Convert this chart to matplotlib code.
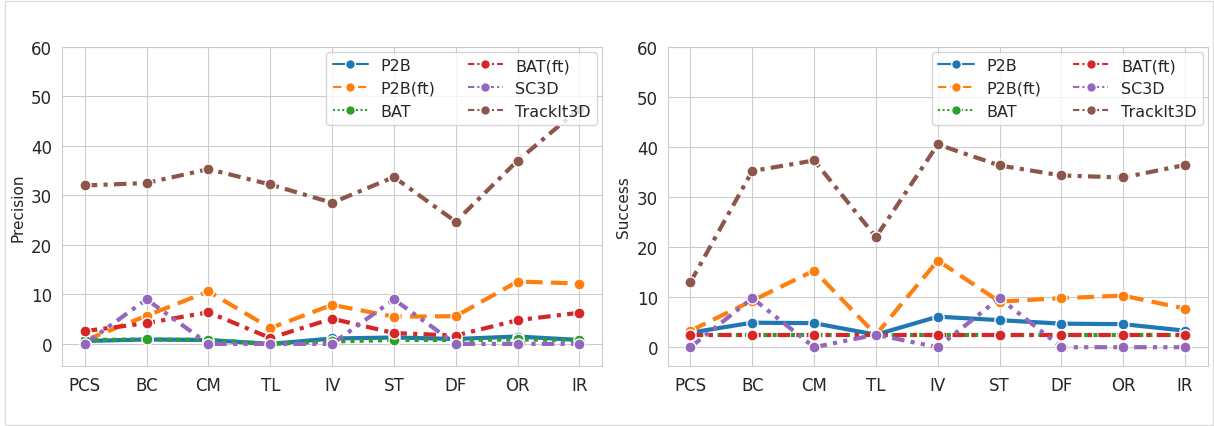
import matplotlib
matplotlib.use("Agg")
import matplotlib.pyplot as plt
from matplotlib.lines import Line2D
import seaborn as sns

categories = ["PCS", "BC", "CM", "TL", "IV", "ST", "DF", "OR", "IR"]
methods = ["P2B", "P2B(ft)", "BAT", "BAT(ft)", "SC3D", "TrackIt3D"]

precision = {
    "P2B":       [0.6, 0.9, 0.8, 0.0, 1.1, 1.3, 1.0, 1.5, 0.8],
    "P2B(ft)":   [0.7, 5.7, 10.6, 3.2, 7.9, 5.5, 5.6, 12.6, 12.2],
    "BAT":       [0.8, 0.9, 0.8, 0.0, 0.5, 0.8, 0.8, 0.9, 0.8],
    "BAT(ft)":   [2.6, 4.2, 6.4, 1.2, 5.1, 2.2, 1.7, 4.8, 6.3],
    "SC3D":      [0.0, 9.0, 0.0, 0.0, 0.0, 9.0, 0.0, 0.0, 0.0],
    "TrackIt3D": [32.0, 32.5, 35.3, 32.2, 28.5, 33.7, 24.7, 37.0, 47.5],
}
success = {
    "P2B":       [2.9, 4.9, 4.8, 2.5, 6.1, 5.4, 4.7, 4.6, 3.3],
    "P2B(ft)":   [3.3, 9.3, 15.3, 2.5, 17.3, 9.1, 9.8, 10.3, 7.7],
    "BAT":       [2.5, 2.5, 2.5, 2.5, 2.5, 2.5, 2.5, 2.5, 2.5],
    "BAT(ft)":   [2.5, 2.5, 2.5, 2.5, 2.5, 2.5, 2.5, 2.5, 2.5],
    "SC3D":      [0.0, 9.8, 0.0, 2.5, 0.0, 9.8, 0.0, 0.0, 0.0],
    "TrackIt3D": [13.0, 35.2, 37.3, 22.0, 40.5, 36.3, 34.3, 33.9, 36.4],
}

colors = {
    "P2B": "#1f77b4", "P2B(ft)": "#ff7f0e", "BAT": "#2ca02c",
    "BAT(ft)": "#d62728", "SC3D": "#9467bd", "TrackIt3D": "#8c564b",
}
styles = {
    "P2B": "-", "P2B(ft)": (0, (4, 2)), "BAT": (0, (1, 1.2)),
    "BAT(ft)": (0, (3, 1.5, 1, 1.5)), "SC3D": (0, (3, 1.5, 1, 1.5, 1, 1.5)),
    "TrackIt3D": (0, (3, 1.5, 1, 1.5)),
}

sns.set_style("whitegrid")
plt.rcParams["font.family"] = ["DejaVu Sans"]

fig, axes = plt.subplots(1, 2, figsize=(12.14, 4.27), dpi=100)
fig.subplots_adjust(left=0.051, right=0.995, bottom=0.14, top=0.888, wspace=0.121)

x = list(range(len(categories)))
for ax, data, label, ylow in [(axes[0], precision, "Precision", -4.5),
                              (axes[1], success, "Success", -3.8)]:
    for m in methods:
        ax.plot(x, data[m], color=colors[m], linestyle=styles[m], linewidth=3,
                marker="o", markersize=8, markeredgecolor="white", markeredgewidth=1)
    ax.set_xticks(x)
    ax.set_xticklabels(categories, fontsize=12)
    ax.set_yticks([0, 10, 20, 30, 40, 50, 60])
    ax.tick_params(axis="y", labelsize=12)
    ax.set_ylim(ylow, 60)
    ax.set_xlim(-0.37, len(categories) - 1 + 0.37)
    ax.set_ylabel(label, fontsize=11)
    for s in ax.spines.values():
        s.set_edgecolor("#cccccc")
    handles = [Line2D([0], [0], color=colors[m], linestyle=styles[m], linewidth=1.5,
                      marker="o", markersize=7, markeredgecolor="white")
               for m in methods]
    ax.legend(handles, methods, ncol=2, loc="upper right", fontsize=11.5,
              handlelength=2.2, columnspacing=2.0, borderaxespad=0.3)

fig.patches.append(plt.Rectangle((0.004, 0.002), 0.995, 0.993, transform=fig.transFigure,
                                 fill=False, edgecolor="#dddddd", linewidth=1))
fig.savefig("out.png", dpi=100)
